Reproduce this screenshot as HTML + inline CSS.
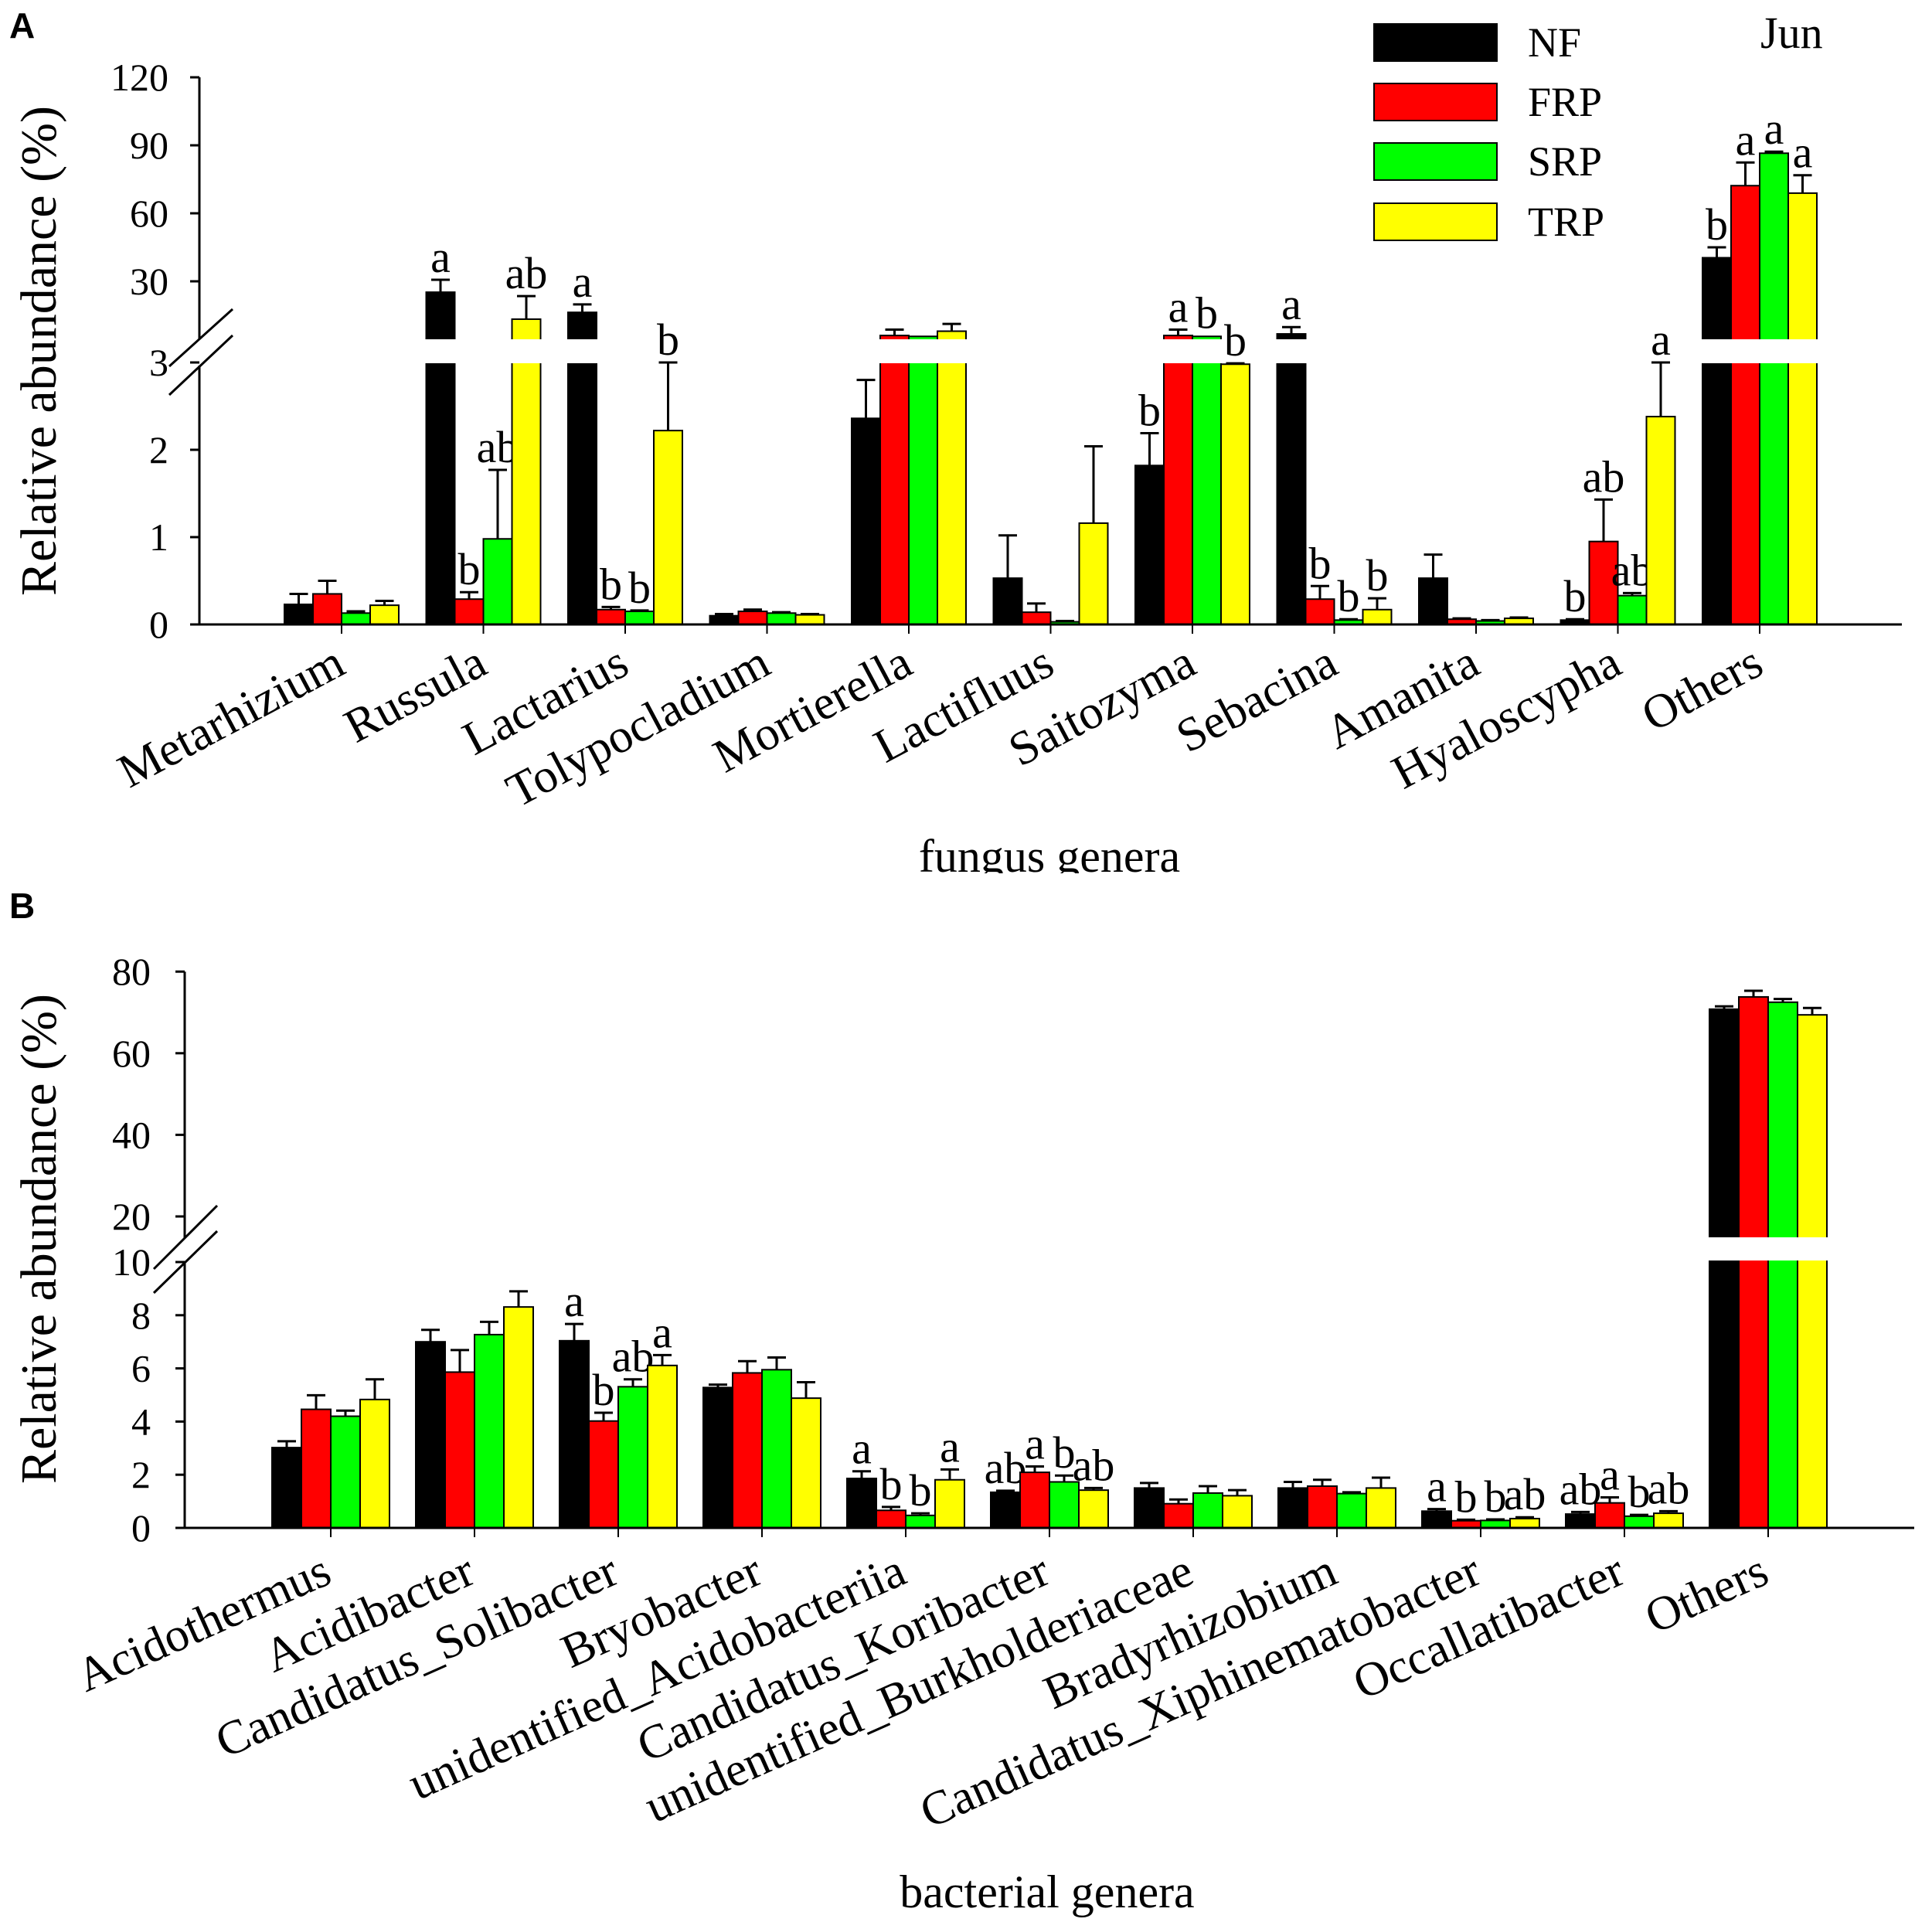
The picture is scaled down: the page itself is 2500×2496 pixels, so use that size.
<!DOCTYPE html>
<html><head><meta charset="utf-8"><style>
html,body{margin:0;padding:0;background:#fff;}
svg{display:block;}
</style></head><body>
<svg id="fig" width="2500" height="2496" viewBox="0 0 2500 2496" xmlns="http://www.w3.org/2000/svg">
<rect width="2500" height="2496" fill="#fff"/>
<g id="panelA"></g>
<g id="panelB"></g>
</svg>
<script>
// ---------- Panel A data ----------
const catsA = ["Metarhizium","Russula","Lactarius","Tolypocladium","Mortierella","Lactifluus","Saitozyma","Sebacina","Amanita","Hyaloscypha","Others"];
const nfA  = [0.23,25.2,16.3,0.10,2.36,0.53,1.82,6.8,0.53,0.05,40.4];
const frpA = [0.35,0.29,0.17,0.15,6.1,0.14,6.1,0.29,0.06,0.95,72.2];
const srpA = [0.13,0.98,0.15,0.13,5.7,0.03,5.7,0.05,0.04,0.33,86.5];
const trpA = [0.22,13.3,2.22,0.11,8.0,1.16,2.98,0.17,0.07,2.38,68.9];
const nfErrA  = [0.35,30.7,19.8,0.12,2.8,1.02,2.19,9.8,0.8,0.06,45.0];
const frpErrA = [0.50,0.37,0.20,0.17,8.7,0.24,8.7,0.44,0.07,1.43,82.4];
const srpErrA = [0.15,1.77,0.16,0.14,5.9,0.04,5.9,0.06,0.05,0.36,87.2];
const trpErrA = [0.27,23.5,3.0,0.12,11.2,2.04,2.99,0.30,0.08,3.0,76.8];
const nfLetA  = ["","a","a","","","","b","a","","b","b"];
const frpLetA = ["","b","b","","","","a","b","","ab","a"];
const srpLetA = ["","ab","b","","","","b","b","","ab","a"];
const trpLetA = ["","ab","b","","","","b","b","","a","a"];
const upperTicksA = [30,60,90,120];
const lowerTicksA = [0,1,2,3];

// ---------- Panel B data ----------
const catsB = ["Acidothermus","Acidibacter","Candidatus_Solibacter","Bryobacter","unidentified_Acidobacteriia","Candidatus_Koribacter","unidentified_Burkholderiaceae","Bradyrhizobium","Candidatus_Xiphinematobacter","Occallatibacter","Others"];
const nfB  = [3.02,7.0,7.04,5.28,1.86,1.34,1.5,1.5,0.63,0.52,70.8];
const frpB = [4.46,5.86,4.02,5.83,0.66,2.09,0.91,1.57,0.27,0.94,73.8];
const srpB = [4.2,7.27,5.31,5.95,0.47,1.73,1.31,1.29,0.28,0.44,72.5];
const trpB = [4.83,8.31,6.11,4.88,1.81,1.42,1.21,1.5,0.35,0.55,69.4];
const nfErrB  = [3.26,7.45,7.67,5.39,2.13,1.4,1.69,1.73,0.71,0.6,71.5];
const frpErrB = [4.99,6.69,4.33,6.27,0.79,2.31,1.07,1.81,0.31,1.15,75.3];
const srpErrB = [4.41,7.75,5.59,6.41,0.55,1.97,1.57,1.34,0.32,0.49,73.3];
const trpErrB = [5.59,8.9,6.5,5.48,2.2,1.5,1.42,1.89,0.4,0.63,71.1];
const nfLetB  = ["","","a","","a","ab","","","a","ab",""];
const frpLetB = ["","","b","","b","a","","","b","a",""];
const srpLetB = ["","","ab","","b","b","","","b","b",""];
const trpLetB = ["","","a","","a","ab","","","ab","ab",""];
const upperTicksB = [20,40,60,80];
const lowerTicksB = [0,2,4,6,8,10];

const seriesNames = ["NF","FRP","SRP","TRP"];
const colors = ["#000000","#ff0000","#00ff00","#ffff00"];
const NS = "http://www.w3.org/2000/svg";
const SERIF = '"Liberation Serif", serif';

function mk(tag, attrs, parent){
  const e = document.createElementNS(NS, tag);
  if (tag === 'text') e.setAttribute('font-family', SERIF);
  for (const k in attrs) e.setAttribute(k, attrs[k]);
  parent.appendChild(e);
  return e;
}

function drawPanel(g, cfg){
  const {cats, vals, errs, lets, axisX, axisEnd, base, x0, dx, barW, lower, upper, breakVal, gapTop, gapBot, upperTicks, lowerTicks, brk, labelAngle, labelDy, labelDx, tickGap} = cfg;
  const yv = v => v <= breakVal ? lower(v) : upper(v);
  cats.forEach((c, i) => {
    const cx = x0 + dx * i;
    const left = cx - barW * 2;
    for (let s = 0; s < 4; s++) {
      const v = vals[s][i];
      const bx = left + s * barW;
      const top = yv(v);
      const r = mk('rect', {x: bx, y: top, width: barW, height: base - top, fill: colors[s], stroke: '#000', 'stroke-width': 2}, g);
      
      
      if (v > breakVal) {
        const w = mk('rect', {x: bx - 2, y: gapTop, width: barW + 4, height: gapBot - gapTop, fill: '#fff'}, g);
        
        
      }
      const et = yv(errs[s][i]);
      if (et < top - 1) {
        const eg = mk('g', {stroke: '#000', 'stroke-width': 3}, g);
        
        
        mk('line', {x1: bx + barW/2, x2: bx + barW/2, y1: top, y2: et}, eg);
        mk('line', {x1: bx + barW/2 - 12, x2: bx + barW/2 + 12, y1: et, y2: et}, eg);
      }
      const L = lets[s][i];
      if (L) {
        const t = mk('text', {x: bx + barW/2, y: Math.min(et, top) - 10, 'text-anchor': 'middle', 'font-size': 58}, g);
        t.textContent = L;
        
        
      }
    }
    const tk = mk('line', {x1: cx, x2: cx, y1: base, y2: base + 12, stroke: '#000', 'stroke-width': 2}, g);
    
    
    const lx = cx + labelDx, ly = base + labelDy;
    const lt = mk('text', {x: lx, y: ly, 'text-anchor': 'end', 'font-size': 62, transform: `rotate(${-labelAngle} ${lx} ${ly})`}, g);
    lt.textContent = c;
    
    
  });
  const ax = mk('g', {stroke: '#000', 'stroke-width': 3, fill: 'none'}, g);
  
  
  mk('line', {x1: axisX, x2: axisEnd, y1: base, y2: base}, ax);
  mk('line', {x1: axisX, x2: axisX, y1: upper(upperTicks[upperTicks.length-1]), y2: brk.ay1}, ax);
  mk('line', {x1: axisX, x2: axisX, y1: brk.ay2, y2: base}, ax);
  mk('line', {x1: brk.x1, y1: brk.l1y1, x2: brk.x2, y2: brk.l1y2}, ax);
  mk('line', {x1: brk.x1, y1: brk.l2y1, x2: brk.x2, y2: brk.l2y2}, ax);
  const tickDraw = (v, y) => {
    mk('line', {x1: axisX - 12, x2: axisX, y1: y, y2: y}, ax);
    const t = mk('text', {x: axisX - tickGap, y: y + 17, 'text-anchor': 'end', 'font-size': 50, stroke: 'none', fill: '#000'}, g);
    t.textContent = v;
    
    
  };
  upperTicks.forEach(v => tickDraw(v, upper(v)));
  lowerTicks.forEach(v => tickDraw(v, lower(v)));
}

const gA = document.getElementById('panelA');
drawPanel(gA, {
  cats: catsA, vals: [nfA, frpA, srpA, trpA], errs: [nfErrA, frpErrA, srpErrA, trpErrA],
  lets: [nfLetA, frpLetA, srpLetA, trpLetA],
  axisX: 258, axisEnd: 2461, base: 808, x0: 442, dx: 183.5, barW: 37,
  lower: v => 808 - v * 113, upper: v => 364 - (v - 30) * 2.933, breakVal: 3,
  gapTop: 439, gapBot: 470, upperTicks: upperTicksA, lowerTicks: lowerTicksA,
  brk: {x1: 219, x2: 301, l1y1: 474, l1y2: 400, l2y1: 511, l2y2: 434, ay1: 438, ay2: 473},
  labelAngle: 28, labelDy: 62, labelDx: 8, tickGap: 40
});
const gB = document.getElementById('panelB');
drawPanel(gB, {
  cats: catsB, vals: [nfB, frpB, srpB, trpB], errs: [nfErrB, frpErrB, srpErrB, trpErrB],
  lets: [nfLetB, frpLetB, srpLetB, trpLetB],
  axisX: 239, axisEnd: 2477, base: 1977, x0: 428, dx: 186, barW: 38,
  lower: v => 1977 - v * 34.4, upper: v => 1574 - (v - 20) * 5.28, breakVal: 10,
  gapTop: 1601, gapBot: 1631, upperTicks: upperTicksB, lowerTicks: lowerTicksB,
  brk: {x1: 199, x2: 281, l1y1: 1642, l1y2: 1560, l2y1: 1673, l2y2: 1593, ay1: 1602, ay2: 1635},
  labelAngle: 24, labelDy: 70, labelDx: 4, tickGap: 44
});

function txt(parent, s, attrs, name){
  const t = mk('text', attrs, parent);
  t.textContent = s;
  
  
  return t;
}
txt(gA, "A", {x: 12, y: 49, 'font-size': 46, 'font-weight': 'bold', 'font-family': '"Liberation Sans",sans-serif'}, 'panel-label-a');
txt(gB, "B", {x: 12, y: 1188, 'font-size': 46, 'font-weight': 'bold', 'font-family': '"Liberation Sans",sans-serif'}, 'panel-label-b');
txt(gA, "Relative abundance (%)", {x: 72, y: 454, 'font-size': 66, 'text-anchor': 'middle', transform: 'rotate(-90 72 454)'}, 'y-axis-title');
txt(gB, "Relative abundance (%)", {x: 72, y: 1603, 'font-size': 66, 'text-anchor': 'middle', transform: 'rotate(-90 72 1603)'}, 'y-axis-title');
txt(gA, "fungus genera", {x: 1358, y: 1128, 'font-size': 60, 'text-anchor': 'middle'}, 'x-axis-title');
const clip = mk('rect', {x: 0, y: 1130, width: 2500, height: 14, fill: '#fff'}, gA);


txt(gB, "bacterial genera", {x: 1355, y: 2468, 'font-size': 60, 'text-anchor': 'middle'}, 'x-axis-title');
txt(gA, "Jun", {x: 2278, y: 62, 'font-size': 58}, 'month-label');

const legend = mk('g', {}, gA);


const legY = [31, 108, 185, 263];
seriesNames.forEach((n, i) => {
  const r = mk('rect', {x: 1778, y: legY[i], width: 159, height: 48, fill: colors[i], stroke: '#000', 'stroke-width': 2}, legend);
  
  
  txt(legend, n, {x: 1977, y: legY[i] + 42, 'font-size': 54}, 'legend-entry-' + n.toLowerCase());
});
</script>
</body></html>
